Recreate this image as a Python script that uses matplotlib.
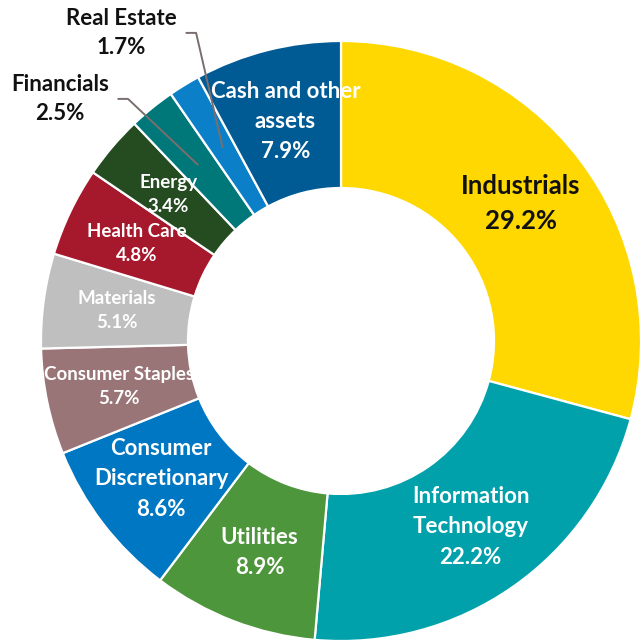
import numpy as np
import matplotlib
matplotlib.use("Agg")
import matplotlib.pyplot as plt

categories = ["Industrials", "Information\nTechnology", "Utilities", "Consumer\nDiscretionary",
              "Consumer Staples", "Materials", "Health Care", "Energy", "Financials",
              "Real Estate", "Cash and other\nassets"]
values = [29.2, 22.2, 8.9, 8.6, 5.7, 5.1, 4.8, 3.4, 2.5, 1.7, 7.9]
colors = ["#FED800", "#00A1AB", "#4D963B", "#0077C2", "#9A7577", "#BFBFBF",
          "#A6182B", "#254C21", "#00787A", "#0B7FC7", "#005A94"]
text_colors = ["#111111"] + ["white"] * 10
font_sizes = [18.5, 16, 16, 16, 13.5, 13.5, 13.5, 13.5, 16, 16, 16]
outside = {"Financials": (-0.937, 0.807, -0.710, 0.807),     # text x, y, elbow x, elbow y
           "Real Estate": (-0.733, 1.027, -0.483, 1.027)}

FONT = ["Lato", "DejaVu Sans"]

fig = plt.figure(figsize=(6.41, 6.41), dpi=100)
ax = fig.add_axes([0, 0, 1, 1])

inner = 0.51
wedges, _ = ax.pie(values, colors=colors, startangle=90, counterclock=False, radius=1.0,
                   wedgeprops=dict(width=1 - inner, edgecolor="white", linewidth=1.6))
ax.set_xlim(-341 / 300, 1.0)
ax.set_ylim(-1.0, 341 / 300)
ax.set_aspect("equal")
ax.axis("off")

rmid = (1 + inner) / 2
for w, cat, v, tc, fs in zip(wedges, categories, values, text_colors, font_sizes):
    ang = np.deg2rad((w.theta1 + w.theta2) / 2)
    mx, my = rmid * np.cos(ang), rmid * np.sin(ang)
    label = f"{cat}\n{v:.1f}%"
    if cat in outside:
        tx, ty, ex, ey = outside[cat]
        ax.plot([mx, ex, ex - 0.035], [my, ey, ey], color="#7A6E6E", lw=1.4,
                solid_capstyle="butt", zorder=5)
        ax.text(tx, ty, label, ha="center", va="center", color="#111111",
                fontsize=fs, fontweight="bold", family=FONT, linespacing=1.5, zorder=6)
    else:
        ls = 1.55 if fs > 15 else 1.5
        ax.text(mx, my, label, ha="center", va="center", color=tc,
                fontsize=fs, fontweight="bold", family=FONT, linespacing=ls, zorder=6)

fig.savefig("out.png", dpi=100)
